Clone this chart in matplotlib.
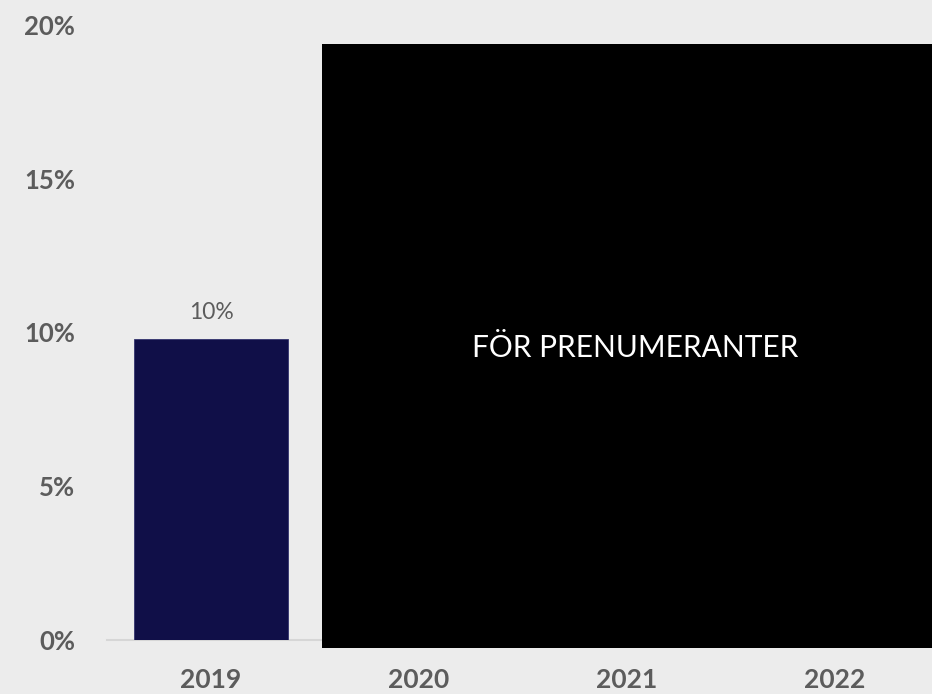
import matplotlib.pyplot as plt
from matplotlib.patches import Rectangle
import numpy as np

# data
years = ['2019', '2020', '2021', '2022']
values = [9.8, np.nan, np.nan, np.nan]   # later years hidden behind the paywall box
labels = ['10%', '', '', '']
yticks = [0, 5, 10, 15, 20]

bg = '#ececec'
bar_color = '#100f48'
text_gray = '#5c5c5c'

plt.rcParams['font.family'] = ['Lato', 'DejaVu Sans']

fig = plt.figure(figsize=(9.32, 6.94), dpi=100, facecolor=bg)
ax = fig.add_axes([107 / 932, 54 / 694, 832 / 932, 615 / 694])
ax.set_facecolor(bg)

x = np.arange(len(years))
bars = ax.bar(x, values, width=0.74, color=bar_color, edgecolor='#34346e', linewidth=0.6, zorder=3)
for xi, v, lab in zip(x, values, labels):
    if lab:
        ax.text(xi, v + 0.5, lab, ha='center', va='bottom', fontsize=16.5,
                color=text_gray)

ax.set_xlim(-0.5, 3.5)
ax.set_ylim(0, 20)
ax.set_xticks(x)
ax.set_xticklabels(years, fontsize=19, fontweight='bold', color=text_gray)
ax.set_yticks(yticks)
ax.set_yticklabels([f'{t}%' for t in yticks], fontsize=18.5, fontweight='bold', color=text_gray)
ax.tick_params(axis='both', length=0)
ax.tick_params(axis='y', pad=23)
ax.tick_params(axis='x', pad=20)

for s in ['top', 'right', 'left']:
    ax.spines[s].set_visible(False)
ax.spines['bottom'].set_color('#d6d6d6')
ax.spines['bottom'].set_linewidth(1.5)

# subscriber overlay
fig.patches.append(Rectangle((322 / 932, 46 / 694), 610 / 932, 604 / 694,
                             transform=fig.transFigure, facecolor='black',
                             edgecolor='none', zorder=10))
fig.text(635 / 932, 1 - 348 / 694, 'FÖR PRENUMERANTER', ha='center', va='center',
         color='white', fontsize=21.5, zorder=11)

fig.savefig('out.png', dpi=100, facecolor=bg)
